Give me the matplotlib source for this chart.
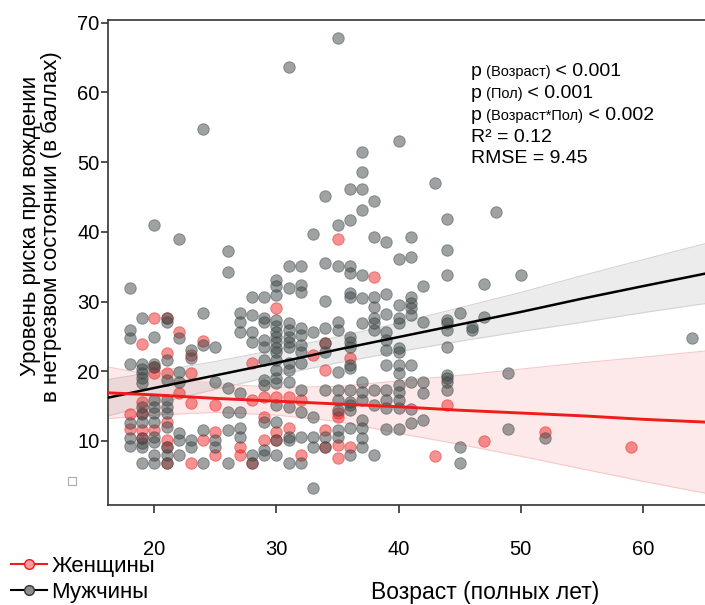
import matplotlib
matplotlib.use("Agg")
import numpy as np
import matplotlib.pyplot as plt
from matplotlib.lines import Line2D
from matplotlib.offsetbox import TextArea, HPacker, VPacker, AnchoredOffsetbox

plt.rcParams['font.family'] = ['Liberation Sans', 'DejaVu Sans']

# scores, grouped by age
male_scores = {
    18: [32.0, 25.9, 24.8, 21.0, 12.6, 10.4, 9.3],
    19: [27.6, 21.0, 20.3, 19.8, 19.0, 18.3, 14.9, 13.9, 12.7, 10.4, 9.7, 9.1, 6.8],
    20: [41.0, 24.9, 21.0, 20.6, 15.9, 14.9, 14.0, 12.7, 10.6, 9.9, 8.0, 6.8],
    21: [27.6, 27.1, 21.6, 18.8, 15.9, 14.9, 14.0, 12.0, 9.1, 8.0, 6.8],
    22: [39.0, 24.8, 19.9, 18.5, 11.1, 10.1, 8.0],
    23: [23.1, 21.9, 10.1, 9.1],
    24: [54.8, 28.4, 23.8, 11.6, 6.8],
    25: [23.5, 18.5, 10.1, 9.1],
    26: [37.3, 34.2, 17.6, 14.2, 11.6, 6.8],
    27: [28.4, 27.1, 25.6, 16.9, 14.2, 11.9, 10.6],
    28: [30.7, 28.1, 25.6, 24.2, 8.0, 6.8],
    29: [30.7, 27.6, 27.1, 24.5, 23.5, 21.6, 18.8, 18.0, 12.7, 8.7, 8.0],
    30: [33.1, 32.2, 30.9, 27.4, 26.5, 25.6, 24.9, 24.2, 23.3, 22.8, 21.6, 20.2,
         19.0, 18.3, 15.2, 12.7, 10.1, 8.0],
    31: [63.7, 35.1, 32.0, 26.9, 25.9, 24.9, 24.2, 23.5, 21.2, 20.2, 18.5, 14.9,
         10.6, 10.1, 6.8],
    32: [35.1, 32.4, 31.4, 26.2, 25.2, 23.8, 22.8, 21.2, 17.3, 14.2, 10.6, 6.8],
    33: [39.7, 25.6, 13.4, 10.6, 9.1, 3.3],
    34: [45.2, 35.5, 30.1, 26.2, 24.1, 22.8, 17.3, 10.6, 9.1],
    35: [67.8, 41.0, 35.1, 27.1, 25.9, 19.9, 17.3, 15.9, 14.4, 11.6, 10.6],
    36: [46.2, 41.7, 35.1, 34.1, 31.2, 30.7, 24.9, 24.2, 23.5, 20.9, 20.5, 17.3,
         15.6, 15.2, 14.4, 11.9, 8.0],
    37: [51.5, 48.6, 46.2, 43.1, 33.8, 30.5, 26.9, 18.5, 17.0, 15.9, 13.0, 11.9,
         10.4, 9.1],
    38: [44.4, 39.3, 30.7, 29.2, 27.6, 26.9, 25.9, 17.3, 15.2, 8.0],
    39: [38.6, 31.1, 28.2, 25.6, 24.5, 23.1, 20.9, 17.3, 15.9, 14.7, 11.7],
    40: [53.0, 36.1, 29.5, 27.6, 26.9, 23.3, 22.8, 20.9, 19.8, 18.0, 17.0, 15.9,
         14.7, 11.7],
    41: [39.3, 36.4, 30.7, 29.8, 29.1, 28.1, 20.9, 18.5, 14.6, 12.6],
    42: [32.2, 27.1, 18.5, 16.9, 13.0],
    43: [47.0],
    44: [41.9, 37.4, 33.8, 27.4, 26.9, 25.9, 23.5, 19.5, 19.0, 18.5, 17.3],
    45: [28.4, 9.1, 6.8],
    46: [26.4, 25.9],
    47: [32.5, 27.8],
    48: [42.8],
    49: [19.8, 11.7],
    50: [33.8],
    52: [10.4],
    64: [24.8],
}

female_scores = {
    18: [13.9, 11.7],
    19: [23.9, 15.6, 14.0, 11.6, 10.4],
    20: [27.6, 20.6, 19.8, 11.6],
    21: [27.6, 22.6, 19.8, 12.7, 10.1, 9.1, 6.8],
    22: [25.6, 16.9],
    23: [22.3, 19.8, 15.5, 6.8],
    24: [24.3, 10.1],
    25: [15.2, 11.3, 8.0],
    27: [9.1, 8.0],
    28: [21.2, 15.9, 6.8],
    29: [16.3, 13.4, 10.1],
    30: [29.1, 16.3, 11.3, 10.1],
    31: [16.3, 11.9],
    32: [15.9, 8.0],
    33: [22.3],
    34: [24.1, 20.2, 11.6, 9.1],
    35: [39.0, 14.0, 13.4, 9.4, 7.6],
    36: [21.9, 9.1],
    38: [33.5],
    43: [7.8],
    44: [15.2],
    47: [10.0],
    52: [11.3],
    59: [9.1],
}

# fitted lines and confidence bands, read at these ages
fit_age = [16.2, 20, 25, 30, 35, 40, 45, 50, 55, 60, 65.1]
male_fit = [16.2, 17.6, 19.4, 21.2, 23.1, 24.9, 26.7, 28.5, 30.4, 32.2, 34.0]
male_lo = [13.6, 15.3, 17.4, 19.4, 21.2, 22.8, 24.3, 25.7, 27.0, 28.4, 29.7]
male_hi = [18.8, 19.9, 21.4, 23.1, 24.9, 26.9, 29.1, 31.3, 33.7, 36.0, 38.3]
female_fit = [16.9, 16.6, 16.1, 15.7, 15.3, 14.9, 14.4, 14.0, 13.6, 13.1, 12.7]
female_lo = [13.2, 13.7, 14.1, 13.7, 12.8, 11.1, 9.5, 7.8, 6.0, 4.2, 2.5]
female_hi = [20.6, 19.4, 18.2, 17.7, 17.8, 18.6, 19.4, 20.3, 21.2, 22.0, 22.9]

x_ticks = [20, 30, 40, 50, 60]
y_ticks = [10, 20, 30, 40, 50, 60, 70]
legend_labels = ['Женщины', 'Мужчины']
stats_p = [('Возраст', '0.001'), ('Пол', '0.001'), ('Возраст*Пол', '0.002')]
r2 = '0.12'
rmse = '9.45'

mx = [a for a, v in male_scores.items() for _ in v]
my = [s for v in male_scores.values() for s in v]
fx = [a for a, v in female_scores.items() for _ in v]
fy = [s for v in female_scores.values() for s in v]

fig = plt.figure(figsize=(7.05, 6.05), dpi=100)
ax = fig.add_axes([108 / 705, 100 / 605, 597 / 705, 485 / 605])

# confidence bands
ax.fill_between(fit_age, male_lo, male_hi, color='#808080', alpha=0.15, lw=0, zorder=1)
ax.plot(fit_age, male_lo, color='#d4d4d4', lw=0.8, zorder=1)
ax.plot(fit_age, male_hi, color='#d4d4d4', lw=0.8, zorder=1)
ax.fill_between(fit_age, female_lo, female_hi, color='#f03030', alpha=0.1, lw=0, zorder=1)
ax.plot(fit_age, female_lo, color='#f9c8c8', lw=0.8, zorder=1)
ax.plot(fit_age, female_hi, color='#f9c8c8', lw=0.8, zorder=1)

# points
ax.scatter(fx, fy, s=68, color='#ec1c1c', alpha=0.48, lw=0.7, zorder=2)
ax.scatter(mx, my, s=68, color='#3e4747', alpha=0.5, lw=0.7, zorder=3)

# fitted lines
ax.plot(fit_age, male_fit, color='black', lw=1.8, zorder=4)
ax.plot(fit_age, female_fit, color='#ee1c1c', lw=2.1, zorder=4)

ax.set_xlim(16.2, 65.1)
ax.set_ylim(0.8, 70.4)
ax.set_xticks(x_ticks)
ax.set_yticks(y_ticks)
ax.spines['right'].set_visible(False)
for sp in ['left', 'top', 'bottom']:
    ax.spines[sp].set_color('#333333')
    ax.spines[sp].set_linewidth(1.2)
ax.tick_params(axis='x', length=6, width=1.2, color='#333333', pad=19, labelsize=14.5)
ax.tick_params(axis='y', length=5, width=1.2, color='#333333', pad=1, labelsize=14.5)

ax.set_ylabel('Уровень риска при вождении\nв нетрезвом состоянии (в баллах)',
              fontsize=16, linespacing=1.0)
ax.yaxis.set_label_coords(-0.077, 0.575)
fig.text(485 / 705, 1 - 592 / 605, 'Возраст (полных лет)', fontsize=16.5,
         ha='center', va='center')

# stats block
rows = []
for name, val in stats_p:
    rows.append(HPacker(children=[TextArea('p', textprops=dict(size=14)),
                                  TextArea(' (' + name + ')', textprops=dict(size=10.5)),
                                  TextArea(' < ' + val, textprops=dict(size=14))],
                        align='baseline', pad=0, sep=0))
rows.append(TextArea('R² = ' + r2, textprops=dict(size=14)))
rows.append(TextArea('RMSE = ' + rmse, textprops=dict(size=14)))
box = VPacker(children=rows, align='left', pad=0, sep=3.5)
fig.add_artist(AnchoredOffsetbox(loc='upper left', child=box, frameon=False,
                                 bbox_to_anchor=(471 / 705, 1 - 63 / 605),
                                 bbox_transform=fig.transFigure, borderpad=0, pad=0))

# stray hollow square left of the axes
fig.add_artist(Line2D([72 / 705], [1 - 481 / 605], transform=fig.transFigure,
                      marker='s', markersize=6, mfc='white', mec='#aaaaaa', mew=0.8))

handles = [Line2D([], [], color='#ee1c1c', lw=1.5, marker='o', markersize=7,
                  mfc='#f79a9a', mec='#ee1c1c'),
           Line2D([], [], color='black', lw=1.5, marker='o', markersize=7,
                  mfc='#8a8f8f', mec='#333333')]
fig.legend(handles, legend_labels, loc='lower left', bbox_to_anchor=(0.016, 0.004),
           frameon=False, fontsize=16, handlelength=1.6, handletextpad=0.2,
           labelspacing=0.22, borderpad=0.0, borderaxespad=0.0)

fig.savefig('out.png', dpi=100)
